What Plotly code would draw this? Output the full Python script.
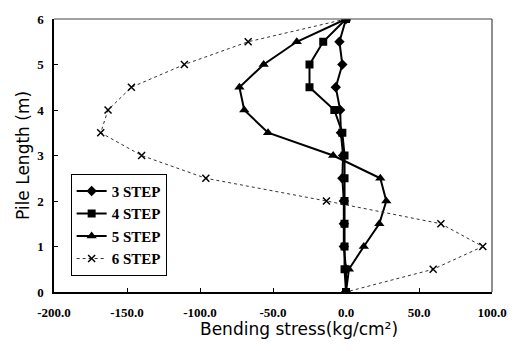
import plotly.graph_objects as go

depth = [6, 5.5, 5, 4.5, 4, 3.5, 3, 2.5, 2, 1.5, 1, 0.5, 0]
step3 = [0, -4.5, -2.5, -7, -4, -3.5, -2, -2.5, -1.5, -1.5, -1.5, 0, 0]
step4 = [0, -15.6, -25, -25, -8, -2.5, -1, -1, -1, -1, -1, -1, 0]
step5 = [0, -33.7, -56.4, -73, -69.7, -53.4, -8.8, 23.5, 27.6, 22.8, 12.2, 2, 0]
step6 = [0, -67, -110.7, -147, -163, -168, -140, -96, -13.4, 65, 93.7, 59.7, 0]

x_ticks = [-200, -150, -100, -50, 0, 50, 100]
x_tick_text = ["-200.0", "-150.0", "-100.0", "-50.0", "0.0", "50.0", "100.0"]
y_ticks = [0, 1, 2, 3, 4, 5, 6]

fig = go.Figure()
fig.add_trace(go.Scatter(x=step3, y=depth, name="3 STEP", mode="lines+markers",
                         line=dict(color="black", width=2),
                         marker=dict(symbol="diamond", size=8, color="black")))
fig.add_trace(go.Scatter(x=step4, y=depth, name="4 STEP", mode="lines+markers",
                         line=dict(color="black", width=2),
                         marker=dict(symbol="square", size=8, color="black")))
fig.add_trace(go.Scatter(x=step5, y=depth, name="5 STEP", mode="lines+markers",
                         line=dict(color="black", width=2),
                         marker=dict(symbol="triangle-up", size=9, color="black")))
fig.add_trace(go.Scatter(x=step6, y=depth, name="6 STEP", mode="lines+markers",
                         line=dict(color="#333333", width=1, dash="dot"),
                         marker=dict(symbol="x-thin", size=7, color="black",
                                     line=dict(color="black", width=1.5))))

tickfont = dict(family="Liberation Serif", size=13, color="black", weight="bold")
fig.update_layout(
    width=519, height=351,
    margin=dict(l=54, r=23, t=14, b=59),
    paper_bgcolor="white", plot_bgcolor="white",
    showlegend=True,
    legend=dict(x=0.038, y=0.433, xanchor="left", yanchor="top",
                bgcolor="white", bordercolor="black", borderwidth=1,
                font=dict(family="Liberation Serif", size=15, color="black", weight="bold")),
    xaxis=dict(range=[-200, 100], tickvals=x_ticks, ticktext=x_tick_text,
               showgrid=False, zeroline=False, showline=True, linecolor="black",
               linewidth=1.5, mirror=False, ticks="inside", ticklen=4,
               tickcolor="black", tickfont=tickfont, ticklabelstandoff=8),
    yaxis=dict(range=[0, 6], tickvals=y_ticks, showgrid=False, zeroline=False,
               showline=True, linecolor="black", linewidth=1.5, mirror=False,
               ticks="inside", ticklen=4, tickcolor="black", tickfont=tickfont,
               ticklabelstandoff=6),
    shapes=[
        dict(type="line", xref="paper", yref="paper", x0=0, x1=1, y0=1, y1=1,
             line=dict(color="#444444", width=1.2)),
        dict(type="line", xref="paper", yref="paper", x0=1, x1=1, y0=0, y1=1,
             line=dict(color="#444444", width=1.2)),
    ],
    annotations=[
        dict(text="Bending stress(kg/cm\u00b2)", xref="paper", yref="paper",
             x=0.559, y=-0.137, xanchor="center", yanchor="middle", showarrow=False,
             font=dict(family="DejaVu Sans", size=17, color="black")),
        dict(text="Pile Length (m)", xref="paper", yref="paper",
             x=-0.072, y=0.5, xanchor="center", yanchor="middle", showarrow=False,
             textangle=-90,
             font=dict(family="DejaVu Sans", size=17, color="black")),
    ],
)

fig.write_html("out.html")
